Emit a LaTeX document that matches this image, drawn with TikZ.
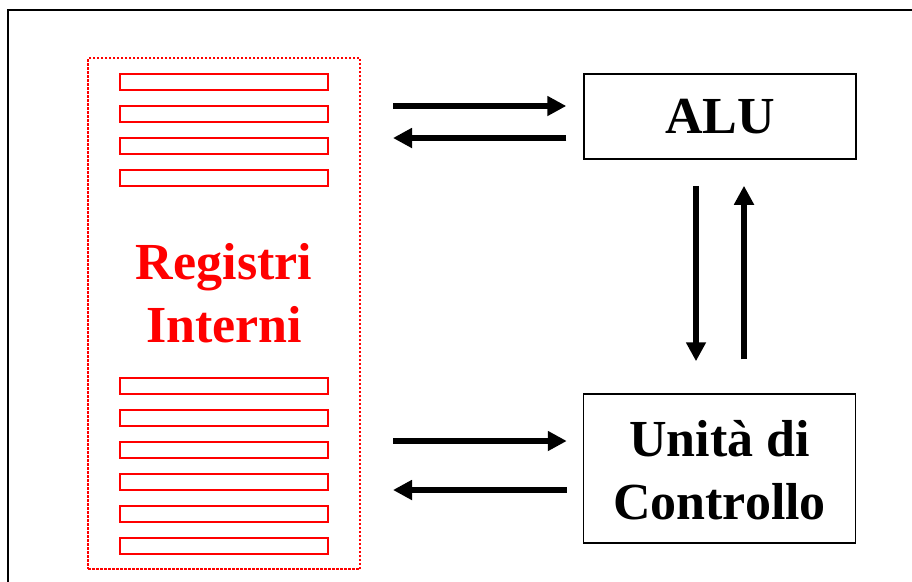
\documentclass[tikz,border=0pt]{standalone}
\usepackage{fontspec}
\setmainfont{Liberation Serif}
\usetikzlibrary{arrows.meta}
\definecolor{regred}{RGB}{255,0,0}
\tikzset{
  unitbox/.style={draw=black, line width=1.5pt, minimum width=272pt, inner sep=0pt,
    font=\bfseries\fontsize{52}{63}\selectfont, align=center},
  regcell/.style={draw=regred, line width=2pt},
  arr/.style={line width=5.5pt, -{Triangle[length=19pt,width=19pt]}},
}
\begin{document}
\begin{tikzpicture}[x=1pt,y=-1pt]
  \useasboundingbox (0,0) rectangle (912,581);
  \clip (0,0) rectangle (912,581);
  % outer frame, running off the right and bottom edges
  \draw[line width=2pt] (8,10) rectangle (960,640);

  % register file
  \node[draw=regred, line width=2pt, dash pattern=on 2.5pt off 1.5pt,
        minimum width=272pt, minimum height=511pt, inner sep=0pt]
        (regs) at (224,313.5) {};
  \foreach \y in {74,106,138,170,378,410,442,474,506,538}
    \draw[regcell] (120,\y) rectangle (328,\y+16);
  \node[text=regred, font=\bfseries\fontsize{52}{63}\selectfont, align=center]
        (regtext) at (224,293) {Registri\\Interni};

  % functional units
  \node[unitbox, minimum height=85pt] (alu) at (720,116.5) {ALU};
  \node[unitbox, minimum height=149pt] (cu) at (719.5,468.5) {};
  \node[font=\bfseries\fontsize{52}{63}\selectfont, align=center, inner sep=0pt]
        (cutext) at (719.5,470) {Unità di\\Controllo};

  % data paths
  \draw[arr, shorten <=32pt, shorten >=17pt] (regs.east |- 0,106) -- (alu.west |- 0,106);
  \draw[arr, shorten <=17pt, shorten >=32pt] (alu.west |- 0,138) -- (regs.east |- 0,138);
  \draw[arr, shorten <=32pt, shorten >=16pt] (regs.east |- 0,441) -- (cu.west |- 0,441);
  \draw[arr, shorten <=16pt, shorten >=32pt] (cu.west |- 0,490) -- (regs.east |- 0,490);
  \draw[arr, shorten <=26pt, shorten >=32pt] (alu.south -| 696,0) -- (cu.north -| 696,0);
  \draw[arr, shorten <=34pt, shorten >=26pt] (cu.north -| 744,0) -- (alu.south -| 744,0);
\end{tikzpicture}
\end{document}
